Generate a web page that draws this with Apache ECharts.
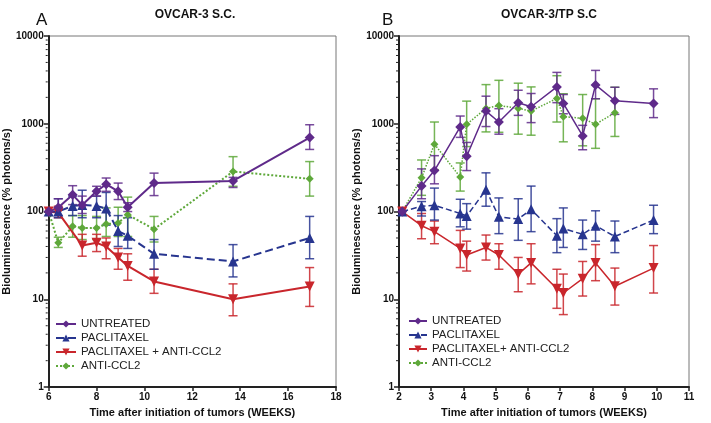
<!DOCTYPE html>
<html>
<head>
<meta charset="utf-8">
<script src="https://cdn.jsdelivr.net/npm/echarts@6/dist/echarts.min.js"></script>
<style>
html, body { margin: 0; padding: 0; background: #fff; }
#main { width: 711px; height: 423px; }
</style>
</head>
<body>
<div id="main"></div>
<script>
// ---- panel A: OVCAR-3 S.C. ----
var aUntrX = [6, 6.4, 7, 7.4, 8, 8.4, 8.9, 9.3, 10.4, 13.7, 16.9]
var aUntrY = [100, 111, 155, 119, 170, 205, 170, 112, 211, 223, 696]
var aUntrLo = [null, 90, 120, 95, 150, 170, 137, 100, 152, 188, 510]
var aUntrHi = [null, 140, 197, 150, 194, 241, 211, 126, 274, 245, 975]

var aPacX = [6, 6.4, 7, 7.4, 8, 8.4, 8.9, 9.3, 10.4, 13.7, 16.9]
var aPacY = [100, 100, 116, 119, 116, 108, 60, 53, 33, 27, 50]
var aPacLo = [null, 85, 90, 85, 85, 70, 40, 38, 22, 18, 29]
var aPacHi = [null, 140, 150, 175, 150, 165, 90, 85, 48, 42, 88]

var aComboX = [6, 6.4, 7.4, 8, 8.4, 8.9, 9.3, 10.4, 13.7, 16.9]
var aComboY = [100, 97, 41, 44, 40, 30, 24, 16, 10, 14]
var aComboLo = [null, 85, 31, 35, 29, 22, 16.5, 11.7, 6.5, 8.3]
var aComboHi = [null, 115, 55, 55, 50, 38, 33, 22, 15, 23]

var aCclX = [6, 6.4, 7, 7.4, 8, 8.4, 8.9, 9.3, 10.4, 13.7, 16.9]
var aCclY = [100, 44, 68, 65, 65, 72, 74, 92, 63, 286, 236]
var aCclLo = [null, 39, 51, 48, 48, 52, 52, 52, 45, 194, 150]
var aCclHi = [null, 51, 90, 90, 88, 110, 112, 146, 88, 422, 371]

// ---- panel B: OVCAR-3/TP S.C ----
var bX = [2.1, 2.7, 3.1, 3.9, 4.1, 4.7, 5.1, 5.7, 6.1, 6.9, 7.1, 7.7, 8.1, 8.7, 9.9]

var bUntrY = [100, 195, 293, 920, 426, 1396, 1047, 1740, 1563, 2630, 1706, 728, 2773, 1829, 1706]
var bUntrLo = [null, 140, 207, 700, 293, 930, 761, 1247, 1031, 1740, 1300, 506, 1928, 1280, 1175]
var bUntrHi = [null, 306, 433, 1225, 613, 2062, 1486, 2410, 2213, 3850, 2154, 960, 4055, 2606, 2500]

var bPacY = [100, 115, 118, 95, 89, 177, 87, 82, 106, 53, 64, 55, 69, 52, 80]
var bPacLo = [null, 89, 80, 67, 63, 115, 56, 47, 59, 34, 39, 37, 46, 34, 56]
var bPacHi = [null, 130, 185, 138, 123, 276, 143, 140, 195, 83, 110, 80, 102, 78, 118]

var bComboY = [100, 69, 59, 38, 32, 39, 32, 19.4, 26, 13.2, 11.8, 17.2, 26, 14.1, 22.7]
var bComboLo = [null, 49, 43, 23, 21, 28, 22, 12.2, 15, 7.9, 6.7, 10.9, 16.3, 8.6, 11.8]
var bComboHi = [null, 95, 78, 61, 46, 54, 43, 30, 43, 22, 19.4, 27, 42, 22.7, 41]

var bCclX = [2.1, 2.7, 3.1, 3.9, 4.1, 4.7, 5.1, 5.7, 6.1, 6.9, 7.1, 7.7, 8.1, 8.7]
var bCclY = [100, 242, 586, 247, 986, 1497, 1618, 1497, 1396, 1942, 1206, 1153, 986, 1337]
var bCclLo = [null, 153, 300, 171, 550, 808, 800, 761, 741, 1047, 623, 561, 525, 717]
var bCclHi = [null, 387, 1047, 358, 1811, 2794, 3126, 2900, 2630, 3530, 2200, 2154, 1928, 2606]

var yTicks = [1, 10, 100, 1000, 10000]

var cPurple = '#5f2a8a'
var cBlue = '#27358f'
var cRed = '#c9262c'
var cGreen = '#5ea83a'
var font = 'Liberation Sans'

var downTri = 'path://M0,0 L10,0 L5,9 Z'

function pts(xs, ys) {
    var out = []
    for (var i = 0; i < xs.length; i++) out.push([xs[i], ys[i]])
    return out
}

function lineSeries(name, xs, ys, ax, color, sym, size, ltype, lw) {
    return {
        type: 'line', name: name, xAxisIndex: ax, yAxisIndex: ax,
        data: pts(xs, ys),
        symbol: sym, symbolSize: size,
        itemStyle: { color: color },
        lineStyle: { color: color, width: lw, type: ltype },
        z: 3
    }
}

function errSeries(xs, lo, hi, ax, color) {
    var d = []
    for (var i = 0; i < xs.length; i++) {
        if (lo[i] != null) d.push([xs[i], lo[i], hi[i]])
    }
    return {
        type: 'custom', name: 'err', xAxisIndex: ax, yAxisIndex: ax,
        data: d, z: 2, silent: true,
        encode: { x: 0, y: [1, 2] },
        renderItem: function(params, api) {
            var p1 = api.coord([api.value(0), api.value(1)])
            var p2 = api.coord([api.value(0), api.value(2)])
            var w = 4.5
            var st = { stroke: color, lineWidth: 1.5, opacity: 0.85 }
            return {
                type: 'group',
                children: [
                    { type: 'line', shape: { x1: p1[0], y1: p1[1], x2: p2[0], y2: p2[1] }, style: st },
                    { type: 'line', shape: { x1: p1[0] - w, y1: p1[1], x2: p1[0] + w, y2: p1[1] }, style: st },
                    { type: 'line', shape: { x1: p2[0] - w, y1: p2[1], x2: p2[0] + w, y2: p2[1] }, style: st }
                ]
            }
        }
    }
}

function xAx(grid, mn, mx, step) {
    return {
        type: 'value', gridIndex: grid, min: mn, max: mx, interval: step,
        axisLine: { show: true, lineStyle: { color: '#222', width: 2 } },
        axisTick: { show: true, length: 4, lineStyle: { color: '#222', width: 1.5 } },
        axisLabel: { color: '#111', fontWeight: 'bold', fontSize: 10, margin: 5, fontFamily: font },
        splitLine: { show: false },
        name: 'Time after initiation of tumors (WEEKS)',
        nameLocation: 'middle', nameGap: 19,
        nameTextStyle: { color: '#111', fontWeight: 'bold', fontSize: 11, fontFamily: font }
    }
}

function yAx(grid) {
    return {
        type: 'log', logBase: 10, gridIndex: grid, min: 1, max: 10000,
        axisLine: { show: true, lineStyle: { color: '#222', width: 2 } },
        axisTick: { show: true, length: 5, lineStyle: { color: '#222', width: 1.5 } },
        axisLabel: {
            color: '#111', fontWeight: 'bold', fontSize: 10, margin: 5, fontFamily: font,
            formatter: function(v) { return String(Math.round(v)) }
        },
        splitLine: { show: false },
        name: 'Bioluminescence (% photons/s)',
        nameLocation: 'middle', nameGap: 29,
        nameTextStyle: { color: '#111', fontWeight: 'bold', fontSize: 11, fontFamily: font }
    }
}

var legendText = { color: '#222', fontSize: 11.5, fontFamily: font }

var chart = echarts.init(document.getElementById('main'))

var option = {
    animation: false,
    backgroundColor: '#fff',
    title: [
        { text: 'OVCAR-3 S.C.', left: 190, top: 4, textAlign: 'center',
          textStyle: { fontSize: 12, fontWeight: 'bold', color: '#111', fontFamily: font } },
        { text: 'A', left: 31, top: 7,
          textStyle: { fontSize: 17, fontWeight: 'normal', color: '#111', fontFamily: font } },
        { text: 'OVCAR-3/TP S.C', left: 544, top: 4, textAlign: 'center',
          textStyle: { fontSize: 12, fontWeight: 'bold', color: '#111', fontFamily: font } },
        { text: 'B', left: 377, top: 7,
          textStyle: { fontSize: 17, fontWeight: 'normal', color: '#111', fontFamily: font } }
    ],
    grid: [
        { left: 44, top: 36, width: 292, height: 356, show: true, borderColor: '#777', borderWidth: 1 },
        { left: 399, top: 36, width: 290, height: 354, show: true, borderColor: '#777', borderWidth: 1 }
    ],
    legend: [
        { orient: 'vertical', left: 50, top: 313, itemWidth: 20, itemHeight: 9, itemGap: 2,
          textStyle: legendText,
          data: ['UNTREATED', 'PACLITAXEL', 'PACLITAXEL + ANTI-CCL2', 'ANTI-CCL2'] },
        { orient: 'vertical', left: 403, top: 310, itemWidth: 18, itemHeight: 9, itemGap: 2,
          textStyle: legendText,
          data: ['UNTREATED', 'PACLITAXEL', 'PACLITAXEL+ ANTI-CCL2', 'ANTI-CCL2'] }
    ],
    xAxis: [xAx(0, 6, 18, 2), xAx(1, 2, 11, 1)],
    yAxis: [yAx(0), yAx(1)],
    series: [
        errSeries(aCclX, aCclLo, aCclHi, 0, cGreen),
        errSeries(aComboX, aComboLo, aComboHi, 0, cRed),
        errSeries(aPacX, aPacLo, aPacHi, 0, cBlue),
        errSeries(aUntrX, aUntrLo, aUntrHi, 0, cPurple),
        lineSeries('ANTI-CCL2', aCclX, aCclY, 0, cGreen, 'diamond', 8, 'dotted', 2),
        lineSeries('PACLITAXEL + ANTI-CCL2', aComboX, aComboY, 0, cRed, downTri, 10, 'solid', 2),
        lineSeries('PACLITAXEL', aPacX, aPacY, 0, cBlue, 'triangle', 10, 'dashed', 2),
        lineSeries('UNTREATED', aUntrX, aUntrY, 0, cPurple, 'diamond', 10, 'solid', 2),

        errSeries(bCclX, bCclLo, bCclHi, 1, cGreen),
        errSeries(bX, bComboLo, bComboHi, 1, cRed),
        errSeries(bX, bPacLo, bPacHi, 1, cBlue),
        errSeries(bX, bUntrLo, bUntrHi, 1, cPurple),
        lineSeries('ANTI-CCL2', bCclX, bCclY, 1, cGreen, 'diamond', 8, 'dotted', 1.5),
        lineSeries('PACLITAXEL+ ANTI-CCL2', bX, bComboY, 1, cRed, downTri, 10, 'solid', 1.5),
        lineSeries('PACLITAXEL', bX, bPacY, 1, cBlue, 'triangle', 10, 'dashed', 1.5),
        lineSeries('UNTREATED', bX, bUntrY, 1, cPurple, 'diamond', 10, 'solid', 1.5)
    ]
}

chart.setOption(option)

// minor ticks (2..9 in each decade) on the log axes
var minor = []
;[0, 1].forEach(function(ai) {
    var x0 = chart.convertToPixel({ xAxisIndex: ai }, ai == 0 ? 6 : 2)
    for (var d = 0; d < yTicks.length - 1; d++) {
        for (var k = 2; k <= 9; k++) {
            var y = chart.convertToPixel({ yAxisIndex: ai }, k * yTicks[d])
            minor.push({
                type: 'line', silent: true,
                shape: { x1: x0 - 3, y1: y, x2: x0 - 1, y2: y },
                style: { stroke: '#222', lineWidth: 1 }
            })
        }
    }
})
chart.setOption({ graphic: minor })
</script>
</body>
</html>
